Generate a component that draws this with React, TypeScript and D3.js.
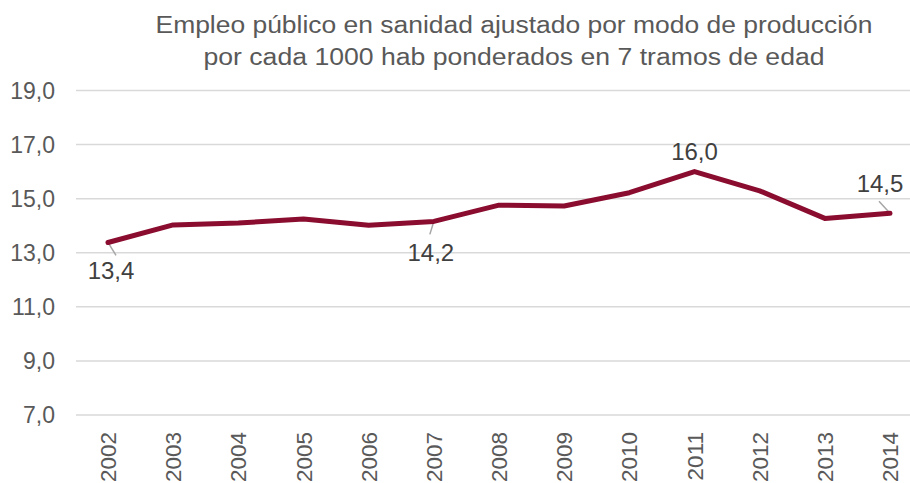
import React from "react";
import * as d3 from "d3";

const years = ["2002","2003","2004","2005","2006","2007","2008","2009","2010","2011","2012","2013","2014"];
const values = [13.38, 14.03, 14.1, 14.25, 14.02, 14.16, 14.76, 14.73, 15.22, 16.0, 15.29, 14.27, 14.46];
const yTicks = [7, 9, 11, 13, 15, 17, 19];
const titleLines = [
  "Empleo público en sanidad ajustado por modo de producción",
  "por cada 1000 hab ponderados en 7 tramos de edad",
];
const titleWidths = [717, 621];
const labelIdx = [0, 5, 9, 12];

const W = 910, H = 483;
const FONT = "'Liberation Sans', Arial, sans-serif";

export default function App() {
  const x = d3.scalePoint<string>().domain(years).range([108, 890]);
  const y = d3.scaleLinear().domain([7, 19]).range([415, 90.5]);
  const line = d3.line<number>().x((_, i) => x(years[i])!).y((d) => y(d));
  const fmt = (v: number) => v.toFixed(1).replace(".", ",");

  const labelPos: Record<number, { dx: number; dy: number; lx: number; ly: number }> = {
    0: { dx: 3, dy: 37, lx: 8, ly: 13 },
    5: { dx: -3, dy: 40, lx: -4, ly: 13 },
    9: { dx: 0, dy: -12, lx: 0, ly: 0 },
    12: { dx: -10, dy: -21, lx: -11, ly: -12 },
  };

  return (
    <svg width={W} height={H} style={{ position: "absolute", left: 0, top: 0, background: "#fff" }} fontFamily={FONT}>
      <rect width={W} height={H} fill="#fff" />
      {titleLines.map((t, i) => (
        <text
          key={i}
          x={514}
          y={33 + i * 32}
          textAnchor="middle"
          fontSize={23}
          fill="#595959"
          textLength={titleWidths[i]}
          lengthAdjust="spacingAndGlyphs"
        >
          {t}
        </text>
      ))}
      {yTicks.map((t) => (
        <g key={t}>
          <line x1={76} x2={910} y1={y(t)} y2={y(t)} stroke="#D9D9D9" strokeWidth={1.5} />
          <text x={55} y={y(t)} dy="0.36em" textAnchor="end" fontSize={23} fill="#595959">
            {fmt(t)}
          </text>
        </g>
      ))}
      {years.map((yr) => (
        <text
          key={yr}
          transform={`translate(${x(yr)! + 8},432) rotate(-90)`}
          textAnchor="end"
          fontSize={22.5}
          fill="#595959"
        >
          {yr}
        </text>
      ))}
      {labelIdx.map((i) => {
        const p = labelPos[i];
        const px = x(years[i])!;
        const py = y(values[i]);
        return (
          <g key={i}>
            {(p.lx !== 0 || p.ly !== 0) && (
              <line x1={px} y1={py} x2={px + p.lx} y2={py + p.ly} stroke="#A6A6A6" strokeWidth={1.5} />
            )}
          </g>
        );
      })}
      <path d={line(values)!} fill="none" stroke="#8A0C2F" strokeWidth={5} strokeLinejoin="round" strokeLinecap="round" />
      {labelIdx.map((i) => {
        const p = labelPos[i];
        const px = x(years[i])!;
        const py = y(values[i]);
        return (
          <text key={i} x={px + p.dx} y={py + p.dy} textAnchor="middle" fontSize={24} fill="#404040">
            {fmt(values[i])}
          </text>
        );
      })}
    </svg>
  );
}
